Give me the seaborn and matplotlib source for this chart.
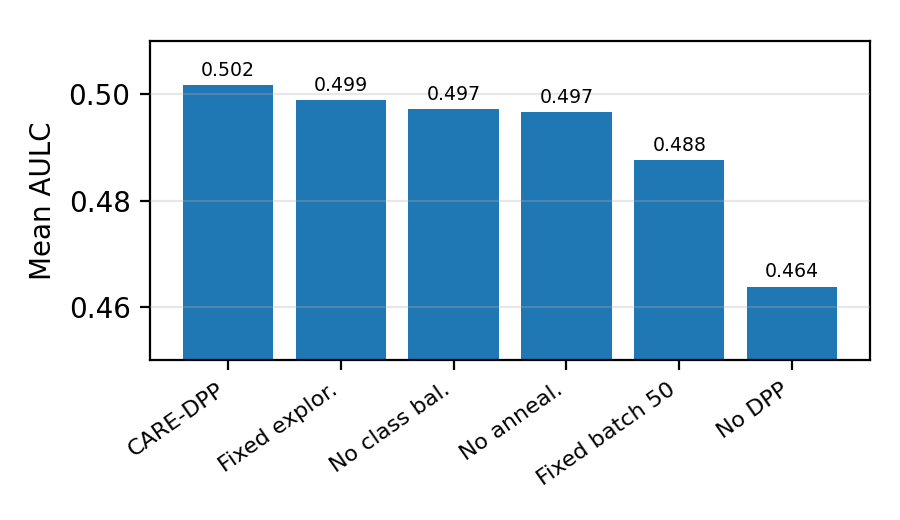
import pandas as pd
import seaborn as sns
import matplotlib.pyplot as plt

# Ablation results (mean AULC)
variants = ['CARE-DPP', 'Fixed explor.', 'No class bal.', 'No anneal.', 'Fixed batch 50', 'No DPP']
aulc = [0.5017, 0.4989, 0.4972, 0.4966, 0.4876, 0.4638]

df = pd.DataFrame({'variant': variants, 'aulc': aulc})

fig, ax = plt.subplots(figsize=(4.5, 2.6), dpi=200)
sns.barplot(data=df, x='variant', y='aulc', color='#1f77b4', saturation=1,
            width=0.8, ax=ax, errorbar=None)

ax.bar_label(ax.containers[0], fmt='%.3f', fontsize=6.8, padding=2)

ax.set_ylim(0.45, 0.51)
ax.set_xlim(-0.69, 5.69)
ax.set_yticks([0.46, 0.48, 0.50])
ax.set_ylabel('Mean AULC', fontsize=10)
ax.set_xlabel('')
ax.tick_params(axis='y', labelsize=10)
ax.tick_params(axis='x', labelsize=8)
plt.setp(ax.get_xticklabels(), rotation=35, ha='right')
ax.grid(True, axis='y', alpha=0.3)
ax.set_axisbelow(False)

fig.subplots_adjust(left=0.1667, right=0.9667, top=0.921, bottom=0.3077)
fig.savefig('out.png', dpi=200)
